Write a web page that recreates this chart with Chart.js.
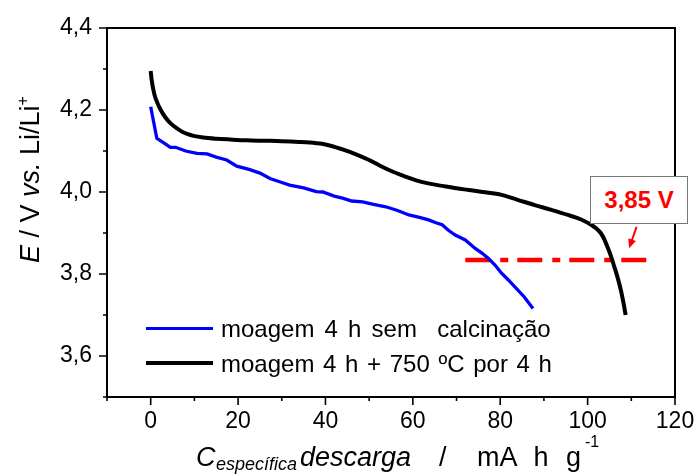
<!DOCTYPE html>
<html>
<head>
<meta charset="utf-8">
<script src="https://cdn.jsdelivr.net/npm/chart.js@4"></script>
<style>
  body { margin: 0; background: #fff; }
  #wrap { position: relative; width: 696px; height: 475px; font-family: Arial, "Liberation Sans", sans-serif; color: #000; }
  #chart { position: absolute; left: 0; top: 0; }
  .abs { position: absolute; white-space: pre; line-height: 27px; }
  #ytitle { left: 17px; top: 263px; font-size: 27px; transform: rotate(-90deg); transform-origin: left top; }
  #ytitle i { font-style: italic; }
  .leg { left: 221px; font-size: 24px; word-spacing: 2px; line-height: 27px; }
  .legline { position: absolute; left: 146px; width: 67px; }
  #note { position: absolute; left: 590px; top: 176px; width: 96px; height: 46px; border: 1px solid #777;
          background: #fff; color: #ff0000; font-weight: bold; font-size: 24px; line-height: 46px; text-align: center; }
</style>
</head>
<body>
<div id="wrap">
  <canvas id="chart" width="696" height="475"></canvas>

  <div id="ytitle" class="abs"><i>E</i> / V <i>vs.</i> Li/Li<span style="font-size:16px; position:relative; top:-11px">+</span></div>

  <div class="abs" style="left:196px; top:444px; font-size:27px; font-style:italic">C</div>
  <div class="abs" style="left:216px; top:451px; font-size:18px; font-style:italic">específica</div>
  <div class="abs" style="left:300px; top:444px; font-size:27px; font-style:italic">descarga</div>
  <div class="abs" style="left:439px; top:444px; font-size:27px">/</div>
  <div class="abs" style="left:477px; top:444px; font-size:27px; word-spacing:10px">mA h g</div>
  <div class="abs" style="left:585px; top:428px; font-size:16px">-1</div>

  <div class="legline" style="top:327px; height:3px; background:#0000ff"></div>
  <div class="abs leg" style="top:315px; word-spacing:3.5px">moagem 4 h sem  calcinação</div>
  <div class="legline" style="top:361px; height:4px; background:#000"></div>
  <div class="abs leg" style="top:350px">moagem 4 h + 750 ºC por 4 h</div>

  <div id="note">3,85 V</div>
</div>

<script>
// discharge curve, milled 4 h, no calcination (blue)
const blueX = [0, 1.4, 3, 4.5, 5.7, 8, 10.6, 12.9, 15, 17.4, 19.7, 22.5, 25, 27.3, 29.5, 31.8, 35, 37.9, 39.4, 42,
  43.9, 46, 48.5, 51, 53.8, 56.5, 59.1, 61.5, 63.6, 65.3, 66.7, 68.2, 69.7, 72, 74.2, 75.8, 77.3, 78.8, 80.3, 81.8,
  83.3, 85.5, 87.5];
const blueY = [4.208, 4.131, 4.12, 4.109, 4.109, 4.1, 4.094, 4.093, 4.085, 4.078, 4.063, 4.055, 4.046, 4.033, 4.025,
  4.017, 4.01, 4.001, 4.0, 3.99, 3.985, 3.978, 3.976, 3.97, 3.964, 3.955, 3.944, 3.938, 3.932, 3.925, 3.92, 3.906,
  3.895, 3.883, 3.863, 3.851, 3.838, 3.822, 3.802, 3.786, 3.769, 3.744, 3.716];

// milled 4 h + 750 C for 4 h (black)
const blackX = [0, 0.2, 0.8, 1.5, 2.3, 3.3, 4.5, 6, 7.2, 8.5, 9.8, 12, 15, 18.2, 22, 26, 30, 34, 37.9, 40, 43.9, 47,
  50, 52.5, 55.3, 58, 60.6, 63.5, 66.7, 70, 72.7, 76, 80.3, 84, 87.9, 91.5, 95.5, 98.5, 100.8, 102, 103, 103.8,
  104.5, 105.3, 106.1, 106.9, 107.6, 108.2, 108.7];
const blackY = [4.295, 4.275, 4.24, 4.218, 4.2, 4.183, 4.168, 4.155, 4.147, 4.141, 4.137, 4.133, 4.13, 4.128, 4.126,
  4.125, 4.124, 4.122, 4.119, 4.116, 4.104, 4.092, 4.078, 4.064, 4.05, 4.039, 4.029, 4.021, 4.015, 4.009, 4.005, 4.0,
  3.993, 3.981, 3.968, 3.957, 3.944, 3.933, 3.92, 3.911, 3.9, 3.885, 3.867, 3.845, 3.818, 3.79, 3.761, 3.73, 3.7];

// 3,85 V cut-off line and its arrow
const cutX = [72, 113.6];
const cutY = [3.834, 3.834];
const arrowFrom = [111.2, 3.915];
const arrowTo = [109.5, 3.863];

const xTickValues = [0, 20, 40, 60, 80, 100, 120];
const xMinorTicks = [-10, 10, 30, 50, 70, 90, 110];
const yTickValues = [3.6, 3.8, 4.0, 4.2, 4.4];
const yMinorTicks = [3.5, 3.7, 3.9, 4.1, 4.3];

const pts = (xs, ys) => xs.map((x, i) => ({x: x, y: ys[i]}));

const frameTicks = {
  id: 'frameTicks',
  afterDraw(chart) {
    const {ctx, chartArea: a, scales: {x, y}} = chart;
    ctx.save();
    ctx.strokeStyle = '#000';
    ctx.lineWidth = 2;
    ctx.strokeRect(a.left, a.top, a.right - a.left, a.bottom - a.top);
    ctx.lineWidth = 1.6;
    ctx.beginPath();
    xTickValues.forEach(v => { const p = x.getPixelForValue(v); ctx.moveTo(p, a.bottom); ctx.lineTo(p, a.bottom + 8); });
    xMinorTicks.forEach(v => { const p = x.getPixelForValue(v); ctx.moveTo(p, a.bottom); ctx.lineTo(p, a.bottom + 4); });
    yTickValues.forEach(v => { const p = y.getPixelForValue(v); ctx.moveTo(a.left, p); ctx.lineTo(a.left - 8, p); });
    yMinorTicks.forEach(v => { const p = y.getPixelForValue(v); ctx.moveTo(a.left, p); ctx.lineTo(a.left - 4, p); });
    ctx.stroke();
    ctx.restore();
  }
};

const arrow = {
  id: 'arrow',
  afterDatasetsDraw(chart) {
    const {ctx, scales: {x, y}} = chart;
    const x0 = x.getPixelForValue(arrowFrom[0]), y0 = y.getPixelForValue(arrowFrom[1]);
    const x1 = x.getPixelForValue(arrowTo[0]), y1 = y.getPixelForValue(arrowTo[1]);
    const ang = Math.atan2(y1 - y0, x1 - x0);
    ctx.save();
    ctx.strokeStyle = ctx.fillStyle = '#ff0000';
    ctx.lineWidth = 2;
    ctx.beginPath();
    ctx.moveTo(x0, y0);
    ctx.lineTo(x1 - 6 * Math.cos(ang), y1 - 6 * Math.sin(ang));
    ctx.stroke();
    ctx.beginPath();
    ctx.moveTo(x1, y1);
    ctx.lineTo(x1 - 9 * Math.cos(ang) + 4 * Math.sin(ang), y1 - 9 * Math.sin(ang) - 4 * Math.cos(ang));
    ctx.lineTo(x1 - 9 * Math.cos(ang) - 4 * Math.sin(ang), y1 - 9 * Math.sin(ang) + 4 * Math.cos(ang));
    ctx.closePath();
    ctx.fill();
    ctx.restore();
  }
};

const tickFont = {family: 'Arial, "Liberation Sans", sans-serif', size: 23};

new Chart(document.getElementById('chart'), {
  type: 'line',
  data: {
    datasets: [
      {label: 'moagem 4 h sem  calcinação', data: pts(blueX, blueY), borderColor: '#0000ff', borderWidth: 3.3, tension: 0},
      {label: 'moagem 4 h + 750 ºC por 4 h', data: pts(blackX, blackY), borderColor: '#000000', borderWidth: 4,
        cubicInterpolationMode: 'monotone'},
      {label: '3,85 V', data: pts(cutX, cutY), borderColor: '#ff0000', borderWidth: 4.5,
        borderDash: [25, 10, 8, 9], borderCapStyle: 'butt'}
    ]
  },
  options: {
    responsive: false,
    animation: false,
    events: [],
    layout: {padding: {left: 0, top: 28, right: 21, bottom: 0}},
    elements: {point: {radius: 0}},
    plugins: {legend: {display: false}, tooltip: {enabled: false}},
    scales: {
      x: {
        type: 'linear', min: -10, max: 120,
        afterBuildTicks: s => { s.ticks = xTickValues.map(v => ({value: v})); },
        afterFit: s => { s.height = 78; s.paddingLeft = 0; s.paddingRight = 0; },
        grid: {display: false, drawTicks: false},
        border: {display: false},
        ticks: {font: tickFont, color: '#000', padding: 11, maxRotation: 0, callback: v => String(v)}
      },
      y: {
        type: 'linear', min: 3.5, max: 4.4,
        afterBuildTicks: s => { s.ticks = yTickValues.map(v => ({value: v})); },
        afterFit: s => { s.width = 107; s.paddingTop = 0; s.paddingBottom = 0; },
        grid: {display: false, drawTicks: false},
        border: {display: false},
        ticks: {font: tickFont, color: '#000', padding: 15, callback: v => v.toFixed(1).replace('.', ',')}
      }
    }
  },
  plugins: [frameTicks, arrow]
});
</script>
</body>
</html>
